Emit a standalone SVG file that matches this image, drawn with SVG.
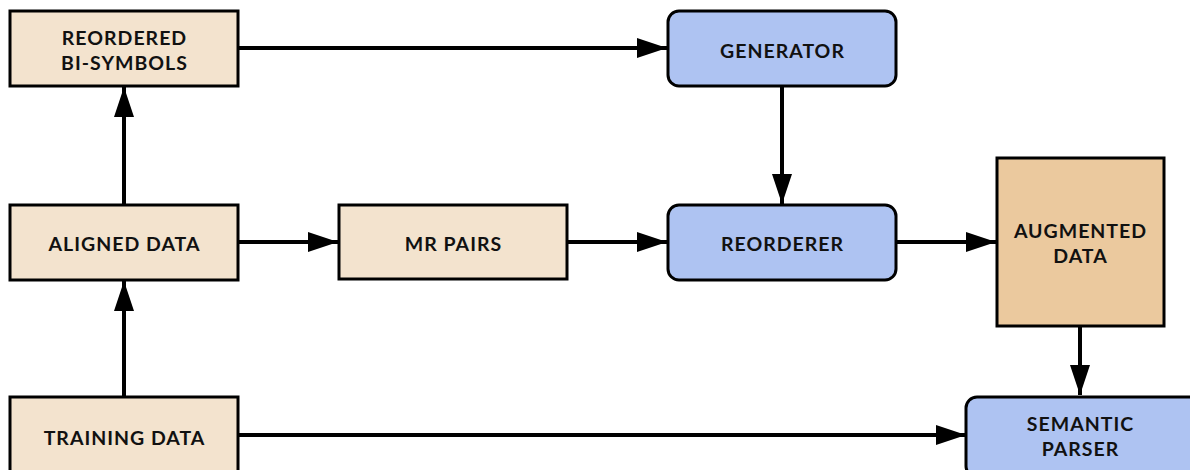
<svg xmlns="http://www.w3.org/2000/svg" width="1190" height="470" viewBox="0 0 1190 470">
  <style>
    .data rect { fill: #f3e3ce; stroke: #000; stroke-width: 3; }
    .model rect { fill: #aec3f2; stroke: #000; stroke-width: 3; }
    .aug rect { fill: #ebc99e; stroke: #000; stroke-width: 3; }
    text { font-family: "Lato", "Noto Sans", sans-serif; font-weight: 700; font-size: 19.5px; letter-spacing: 1px; fill: #111; text-anchor: middle; dominant-baseline: central; }
    .edge { stroke: #000; stroke-width: 4; fill: none; marker-end: url(#arrow); }
  </style>
  <defs>
    <marker id="arrow" viewBox="0 0 30 20" refX="30" refY="10" markerUnits="userSpaceOnUse" markerWidth="30" markerHeight="20" orient="auto">
      <path d="M0,0 L30,10 L0,20 Z" fill="#000"/>
    </marker>
  </defs>

  <g id="connectors">
    <line class="edge" x1="238" y1="48" x2="667" y2="48"/>
    <line class="edge" x1="782" y1="86" x2="782" y2="204"/>
    <line class="edge" x1="124" y1="205" x2="124" y2="87"/>
    <line class="edge" x1="124" y1="397" x2="124" y2="281"/>
    <line class="edge" x1="238" y1="242" x2="338" y2="242"/>
    <line class="edge" x1="567" y1="242" x2="667" y2="242"/>
    <line class="edge" x1="896" y1="242" x2="996" y2="242"/>
    <line class="edge" x1="1080" y1="326" x2="1080" y2="395"/>
    <line class="edge" x1="238" y1="435" x2="966" y2="435"/>
  </g>

  <g id="reordered-bi-symbols" class="data">
    <rect x="10" y="11" width="228" height="75"/>
    <text x="124.5" y="37">REORDERED</text>
    <text x="124.5" y="62">BI-SYMBOLS</text>
  </g>
  <g id="aligned-data" class="data">
    <rect x="10" y="205" width="228" height="75"/>
    <text x="124.5" y="243">ALIGNED DATA</text>
  </g>
  <g id="training-data" class="data">
    <rect x="10" y="397" width="228" height="80"/>
    <text x="124.5" y="437">TRAINING DATA</text>
  </g>
  <g id="mr-pairs" class="data">
    <rect x="339" y="205" width="228" height="74"/>
    <text x="453.5" y="243">MR PAIRS</text>
  </g>
  <g id="generator" class="model">
    <rect x="668" y="11" width="228" height="75" rx="11"/>
    <text x="782.5" y="50">GENERATOR</text>
  </g>
  <g id="reorderer" class="model">
    <rect x="668" y="205" width="228" height="75" rx="11"/>
    <text x="782.5" y="243">REORDERER</text>
  </g>
  <g id="augmented-data" class="aug">
    <rect x="997" y="158" width="167" height="168"/>
    <text x="1080.5" y="230">AUGMENTED</text>
    <text x="1080.5" y="255">DATA</text>
  </g>
  <g id="semantic-parser" class="model">
    <rect x="966" y="397" width="236" height="80" rx="11"/>
    <text x="1080.5" y="423">SEMANTIC</text>
    <text x="1080.5" y="448">PARSER</text>
  </g>
</svg>
